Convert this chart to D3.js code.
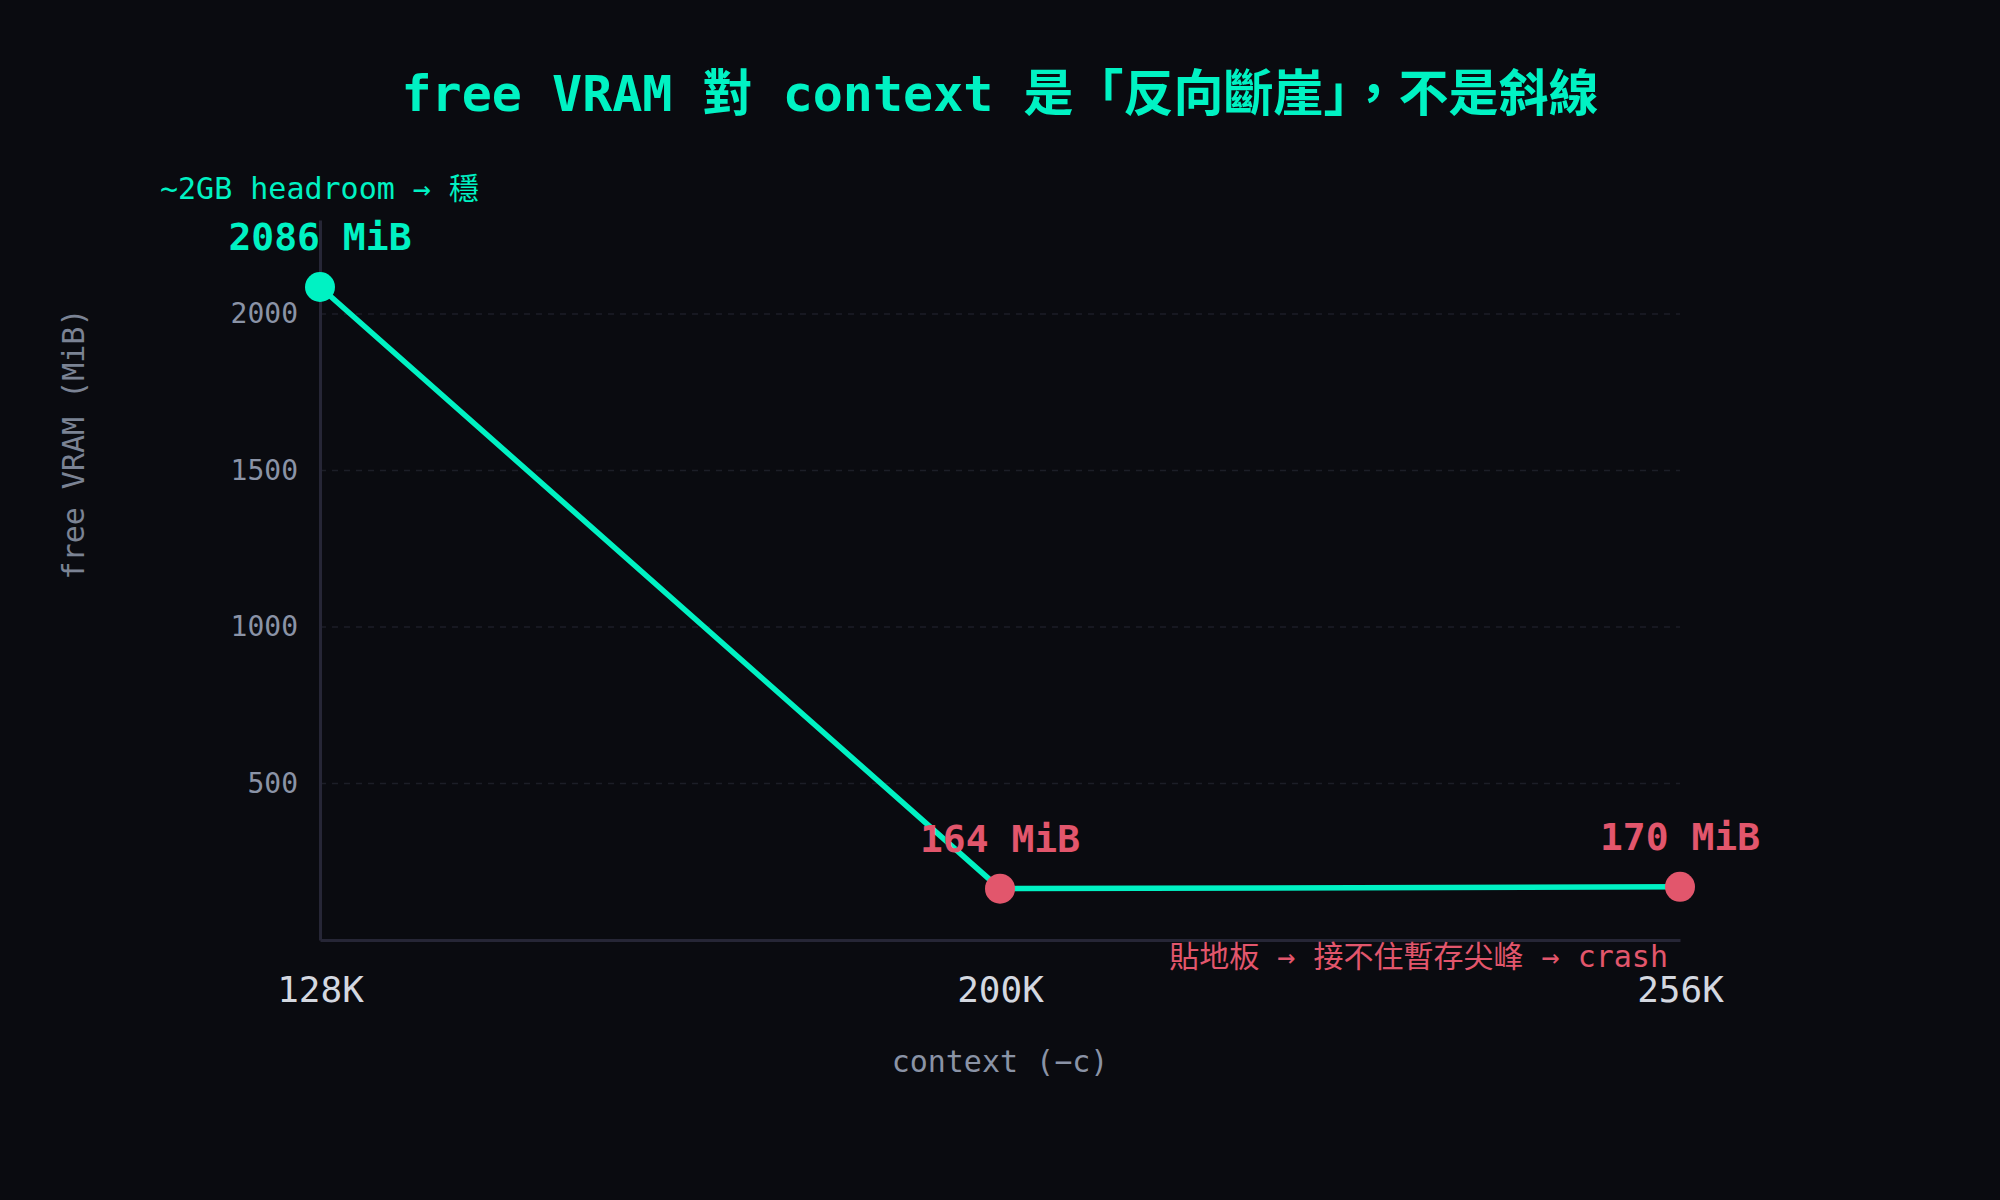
<!DOCTYPE html>
<html>
<head>
<meta charset="utf-8">
<script src="https://cdn.jsdelivr.net/npm/d3@7.9.0/dist/d3.min.js"></script>
<style>
  html, body { margin: 0; padding: 0; background: #0a0b10; }
  svg { display: block; }
  text { font-family: "DejaVu Sans Mono", "Noto Sans CJK TC", monospace; }
</style>
</head>
<body>
<svg id="chart" width="2000" height="1200"></svg>
<script>
// data
const contexts = ['128K', '200K', '256K'];
const freeVram = [2086, 164, 170];
const pointLabels = ['2086 MiB', '164 MiB', '170 MiB'];
const yTicks = [500, 1000, 1500, 2000];

const teal = '#00f2c3';
const red = '#e2566c';

const margin = { top: 220, right: 320, bottom: 260, left: 320 };
const width = 2000, height = 1200;

const svg = d3.select('#chart');

svg.append('rect').attr('width', width).attr('height', height).attr('fill', '#0a0b10');

let x = d3.scalePoint().domain(contexts).range([margin.left, width - margin.right]);
let y = d3.scaleLinear().domain([0, 2300]).range([height - margin.bottom, margin.top]);

// grid lines
svg.append('g')
  .selectAll('line')
  .data(yTicks)
  .join('line')
  .attr('x1', margin.left)
  .attr('x2', width - margin.right)
  .attr('y1', d => y(d))
  .attr('y2', d => y(d))
  .attr('stroke', '#1c1e27')
  .attr('stroke-width', 1.5)
  .attr('stroke-dasharray', '6,6');

// y axis
let yAxis = svg.append('g')
  .attr('transform', `translate(${margin.left},0)`)
  .call(d3.axisLeft(y).tickValues(yTicks).tickFormat(d3.format('d')).tickSize(0).tickPadding(22));
yAxis.select('.domain').attr('stroke', '#262636').attr('stroke-width', 3);
yAxis.selectAll('text')
  .attr('fill', '#8a93a6')
  .attr('font-size', 28)
  .style('font-family', '"DejaVu Sans Mono", monospace');

// x axis
let xAxis = svg.append('g')
  .attr('transform', `translate(0,${height - margin.bottom})`)
  .call(d3.axisBottom(x).tickSize(0).tickPadding(36));
xAxis.select('.domain').attr('stroke', '#262636').attr('stroke-width', 3);
xAxis.selectAll('text')
  .attr('fill', '#d4d8e0')
  .attr('font-size', 36)
  .style('font-family', '"DejaVu Sans Mono", monospace');

// axis titles
svg.append('text')
  .attr('x', (margin.left + width - margin.right) / 2)
  .attr('y', 1072)
  .attr('text-anchor', 'middle')
  .attr('fill', '#8a93a6')
  .attr('font-size', 30)
  .text('context (−c)');

svg.append('text')
  .attr('transform', 'translate(84,444) rotate(-90)')
  .attr('text-anchor', 'middle')
  .attr('fill', '#7b8394')
  .attr('font-size', 30)
  .text('free VRAM (MiB)');

// title
svg.append('text')
  .attr('x', 1000)
  .attr('y', 111)
  .attr('text-anchor', 'middle')
  .attr('fill', teal)
  .attr('font-size', 50)
  .attr('font-weight', 'bold')
  .text('free VRAM 對 context 是「反向斷崖」，不是斜線');

// line
let points = contexts.map((c, i) => [x(c), y(freeVram[i])]);
svg.append('path')
  .attr('d', d3.line()(points))
  .attr('fill', 'none')
  .attr('stroke', teal)
  .attr('stroke-width', 5.5);

// points
svg.append('g')
  .selectAll('circle')
  .data(points)
  .join('circle')
  .attr('cx', d => d[0])
  .attr('cy', d => d[1])
  .attr('r', 15)
  .attr('fill', (d, i) => i === 0 ? teal : red);

// value labels
svg.append('g')
  .selectAll('text')
  .data(points)
  .join('text')
  .attr('x', d => d[0])
  .attr('y', d => d[1] - 37)
  .attr('text-anchor', 'middle')
  .attr('fill', (d, i) => i === 0 ? teal : red)
  .attr('font-size', 38)
  .attr('font-weight', 'bold')
  .text((d, i) => pointLabels[i]);

// annotations
svg.append('text')
  .attr('x', 160)
  .attr('y', 199)
  .attr('fill', teal)
  .attr('font-size', 30)
  .text('~2GB headroom → 穩');

svg.append('text')
  .attr('x', 1668)
  .attr('y', 967)
  .attr('text-anchor', 'end')
  .attr('fill', red)
  .attr('font-size', 30)
  .text('貼地板 → 接不住暫存尖峰 → crash');
</script>
</body>
</html>
